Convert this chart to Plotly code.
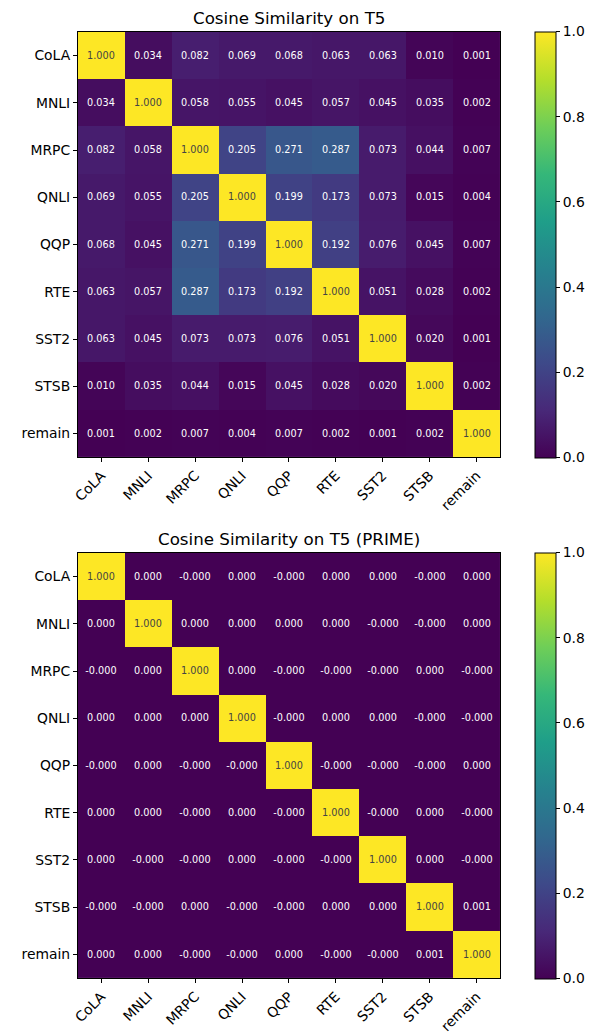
import plotly.graph_objects as go

tasks = ["CoLA", "MNLI", "MRPC", "QNLI", "QQP", "RTE", "SST2", "STSB", "remain"]

t5_sim = [
    [1.000, 0.034, 0.082, 0.069, 0.068, 0.063, 0.063, 0.010, 0.001],
    [0.034, 1.000, 0.058, 0.055, 0.045, 0.057, 0.045, 0.035, 0.002],
    [0.082, 0.058, 1.000, 0.205, 0.271, 0.287, 0.073, 0.044, 0.007],
    [0.069, 0.055, 0.205, 1.000, 0.199, 0.173, 0.073, 0.015, 0.004],
    [0.068, 0.045, 0.271, 0.199, 1.000, 0.192, 0.076, 0.045, 0.007],
    [0.063, 0.057, 0.287, 0.173, 0.192, 1.000, 0.051, 0.028, 0.002],
    [0.063, 0.045, 0.073, 0.073, 0.076, 0.051, 1.000, 0.020, 0.001],
    [0.010, 0.035, 0.044, 0.015, 0.045, 0.028, 0.020, 1.000, 0.002],
    [0.001, 0.002, 0.007, 0.004, 0.007, 0.002, 0.001, 0.002, 1.000],
]

# near-zero values: sign preserved as printed (-0.000 / 0.000)
prime_sim = [
    [1.000, 0.0001, -0.0001, 0.0001, -0.0001, 0.0001, 0.0001, -0.0001, 0.0001],
    [0.0001, 1.000, 0.0001, 0.0001, 0.0001, 0.0001, -0.0001, -0.0001, 0.0001],
    [-0.0001, 0.0001, 1.000, 0.0001, -0.0001, -0.0001, -0.0001, 0.0001, -0.0001],
    [0.0001, 0.0001, 0.0001, 1.000, -0.0001, 0.0001, 0.0001, -0.0001, -0.0001],
    [-0.0001, 0.0001, -0.0001, -0.0001, 1.000, -0.0001, -0.0001, -0.0001, 0.0001],
    [0.0001, 0.0001, -0.0001, 0.0001, -0.0001, 1.000, -0.0001, 0.0001, -0.0001],
    [0.0001, -0.0001, -0.0001, 0.0001, -0.0001, -0.0001, 1.000, 0.0001, -0.0001],
    [-0.0001, -0.0001, 0.0001, -0.0001, -0.0001, 0.0001, 0.0001, 1.000, 0.001],
    [0.0001, 0.0001, -0.0001, -0.0001, 0.0001, -0.0001, -0.0001, 0.001, 1.000],
]

titles = ["Cosine Similarity on T5", "Cosine Similarity on T5 (PRIME)"]
cbar_ticks = [0, 0.2, 0.4, 0.6, 0.8, 1.0]
cbar_ticktext = ["0.0", "0.2", "0.4", "0.6", "0.8", "1.0"]

W, H = 592, 1034
FONT = "DejaVu Sans"
TICK = 13.9
CELL = 9.7
TITLE = 16.7

x0, x1 = 72.7 / W, 499 / W
tops = [32, 554]
PH = 426
doms = [(1 - (t + PH) / H, 1 - t / H) for t in tops]

fig = go.Figure()
for i, (mat, dom) in enumerate(zip([t5_sim, prime_sim], doms)):
    text = [[f"{v:.3f}" for v in row] for row in mat]
    cy = (dom[0] + dom[1]) / 2
    fig.add_trace(go.Heatmap(
        z=mat, x=tasks, y=tasks, text=text, texttemplate="%{text}",
        textfont=dict(size=CELL, family=FONT),
        colorscale="Viridis", zmin=0, zmax=1,
        xaxis="x" if i == 0 else "x2", yaxis="y" if i == 0 else "y2",
        hoverinfo="skip",
        colorbar=dict(
            x=534 / W, xanchor="left", y=cy, yanchor="middle",
            xpad=0, ypad=0,
            thickness=21, thicknessmode="pixels",
            len=PH, lenmode="pixels",
            outlinewidth=1, outlinecolor="black",
            ticks="outside", ticklen=4, tickcolor="black",
            tickvals=cbar_ticks, ticktext=cbar_ticktext,
            tickfont=dict(size=TICK, family=FONT, color="black"),
        ),
    ))

axis_common = dict(
    showline=True, linecolor="black", linewidth=1, mirror=True,
    ticks="outside", ticklen=4, tickcolor="black", showgrid=False,
    zeroline=False, tickfont=dict(size=TICK, family=FONT, color="black"),
)

fig.update_layout(
    width=W, height=H, margin=dict(l=0, r=0, t=0, b=0),
    paper_bgcolor="white", plot_bgcolor="white",
    font=dict(family=FONT, color="black"),
    xaxis=dict(domain=[x0, x1], anchor="y", tickangle=-45, **axis_common),
    yaxis=dict(domain=list(doms[0]), anchor="x", autorange="reversed", **axis_common),
    xaxis2=dict(domain=[x0, x1], anchor="y2", tickangle=-45, **axis_common),
    yaxis2=dict(domain=list(doms[1]), anchor="x2", autorange="reversed", **axis_common),
    annotations=[
        dict(text=titles[k], x=(x0 + x1) / 2, y=1 - (tops[k] - 13.5) / H,
             xref="paper", yref="paper", showarrow=False,
             font=dict(size=TITLE, family=FONT, color="black"),
             xanchor="center", yanchor="middle")
        for k in range(2)
    ],
)

fig.write_html(
    "out.html",
    config={"displayModeBar": False},
    post_script="document.body.style.margin='0';document.body.style.overflow='hidden';",
)
